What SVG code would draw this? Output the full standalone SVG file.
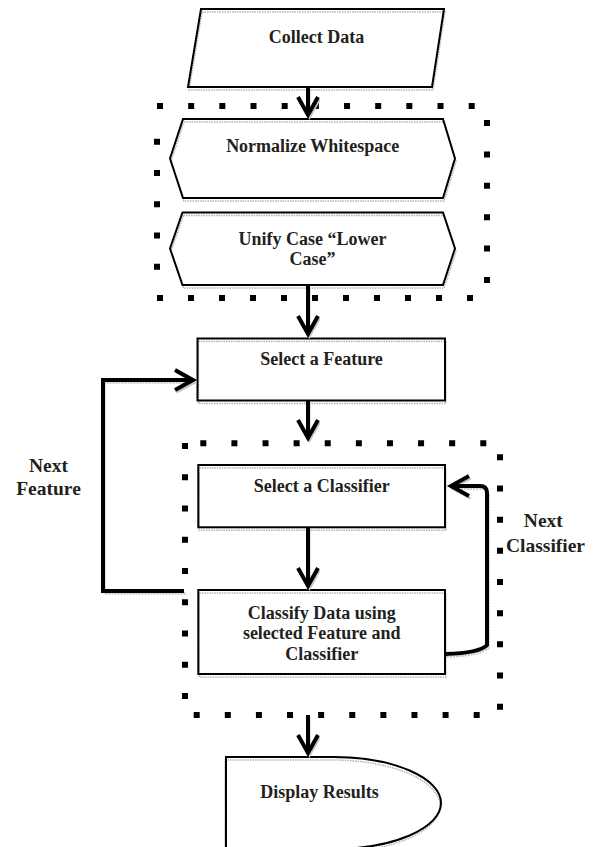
<svg xmlns="http://www.w3.org/2000/svg" xmlns:xlink="http://www.w3.org/1999/xlink" width="598" height="847" viewBox="0 0 598 847">
  <style>
    .t{font-family:"Liberation Serif","Times New Roman",serif;font-weight:bold;font-size:18px;fill:#231f20;text-anchor:middle}
    .lbl{font-size:19.5px}
    .fillw{fill:#fff;stroke:none}
    .shade{fill:none;stroke:#b4b4b4;stroke-width:1.5;stroke-dasharray:1.5 1}
    .edge{fill:none;stroke:#000;stroke-width:2;stroke-linejoin:miter}
    .dots{fill:none;stroke:#000;stroke-width:6}
    .wire{fill:none;stroke:#000;stroke-width:4;stroke-linejoin:miter;marker-end:url(#ah)}
    .wire-sh{fill:none;stroke:#c4c4c4;stroke-width:2.5;stroke-dasharray:2 1;marker-end:url(#ah-sh)}
  </style>
  <defs>
    <marker id="ah" markerUnits="userSpaceOnUse" orient="auto" overflow="visible" refX="0" refY="0" markerWidth="30" markerHeight="30">
      <path d="M-16,-10 L2,0 L-16,10" fill="none" stroke="#000" stroke-width="4" stroke-linejoin="miter" stroke-miterlimit="10"/>
    </marker>
    <marker id="ah-sh" markerUnits="userSpaceOnUse" orient="auto" overflow="visible" refX="0" refY="0" markerWidth="30" markerHeight="30">
      <path d="M-16,-10 L2,0 L-16,10" fill="none" stroke="#c4c4c4" stroke-width="2.5" stroke-linejoin="miter" stroke-miterlimit="10"/>
    </marker>

    <!-- node outlines -->
    <path id="s-collect" d="M201,9 H444 L432,87 H188 Z"/>
    <path id="s-normalize" d="M183,119 H443 L455,158.5 L443,198 H183 L170,158.5 Z"/>
    <path id="s-unify" d="M182.5,212.5 H443 L455,248.5 L443,285 H182.5 L170,248.5 Z"/>
    <rect id="s-feature" x="197.5" y="338.5" width="247.5" height="62"/>
    <rect id="s-classifier" x="198.3" y="465" width="246.7" height="62.3"/>
    <rect id="s-classify" x="198.3" y="590" width="246.7" height="84"/>
    <path id="s-display" d="M226,757 H333.5 A107.5,46 0 0 1 333.5,849 H226 Z"/>

    <!-- connector routes -->
    <path id="c1" d="M308,87 V113"/>
    <path id="c2" d="M308,286 V332"/>
    <path id="c3" d="M308,401 V436"/>
    <path id="c4" d="M308,527 V584"/>
    <path id="c5" d="M308,715 V751"/>
    <path id="c-next-feature" d="M184,591 H103 V380 H191"/>
    <path id="c-next-classifier" d="M445,654 Q480,653 487,645 V493 Q487,486 480,486 H453"/>
  </defs>

  <rect width="598" height="847" fill="#fff"/>

  <!-- dotted group frames -->
  <g id="frame-preprocess" class="dots">
    <path d="M157,106 H475" stroke-dasharray="6 25.17"/>
    <path d="M487,120 V283" stroke-dasharray="6 25.4"/>
    <path d="M157,298 H473" stroke-dasharray="6 25"/>
    <path d="M157,138.7 V270" stroke-dasharray="6 25.25"/>
  </g>
  <g id="frame-classify" class="dots">
    <path d="M200.3,443.3 H486.3" stroke-dasharray="6 25.11"/>
    <path d="M500,454.3 V710" stroke-dasharray="6 25.175"/>
    <path d="M193.7,715 H480" stroke-dasharray="6 25.11"/>
    <path d="M185,443 V699" stroke-dasharray="6 25.25"/>
  </g>

  <!-- nodes -->
  <g id="collect-data">
    <use href="#s-collect" class="fillw"/>
    <use href="#s-collect" class="shade" transform="translate(1,3)"/>
    <use href="#s-collect" class="edge"/>
    <text class="t" x="316.5" y="43">Collect Data</text>
  </g>
  <g id="normalize-whitespace">
    <use href="#s-normalize" class="fillw"/>
    <use href="#s-normalize" class="shade" transform="translate(1,3)"/>
    <use href="#s-normalize" class="edge"/>
    <text class="t" x="312.7" y="151.7">Normalize Whitespace</text>
  </g>
  <g id="unify-case">
    <use href="#s-unify" class="fillw"/>
    <use href="#s-unify" class="shade" transform="translate(1,3)"/>
    <use href="#s-unify" class="edge"/>
    <text class="t" x="312.5" y="245">Unify Case “Lower</text>
    <text class="t" x="312.5" y="265">Case”</text>
  </g>
  <g id="select-feature">
    <use href="#s-feature" class="fillw"/>
    <use href="#s-feature" class="shade" transform="translate(1,3)"/>
    <use href="#s-feature" class="edge"/>
    <text class="t" x="321.5" y="365">Select a Feature</text>
  </g>
  <g id="select-classifier">
    <use href="#s-classifier" class="fillw"/>
    <use href="#s-classifier" class="shade" transform="translate(1,3)"/>
    <use href="#s-classifier" class="edge"/>
    <text class="t" x="321.7" y="491.7">Select a Classifier</text>
  </g>
  <g id="classify-data">
    <use href="#s-classify" class="fillw"/>
    <use href="#s-classify" class="shade" transform="translate(1,3)"/>
    <use href="#s-classify" class="edge"/>
    <text class="t" x="321.7" y="618.5">Classify Data using</text>
    <text class="t" x="321.7" y="639">selected Feature and</text>
    <text class="t" x="321.7" y="659.5">Classifier</text>
  </g>
  <g id="display-results">
    <use href="#s-display" class="fillw"/>
    <use href="#s-display" class="shade" transform="translate(-1,3)"/>
    <use href="#s-display" class="edge"/>
    <text class="t" x="319.5" y="798">Display Results</text>
  </g>

  <!-- connectors -->
  <g id="connectors">
    <g class="wire-sh" transform="translate(1.5,2.5)">
      <use href="#c1"/><use href="#c2"/><use href="#c3"/><use href="#c4"/><use href="#c5"/>
      <use href="#c-next-feature"/><use href="#c-next-classifier"/>
    </g>
    <g class="wire">
      <use href="#c1"/><use href="#c2"/><use href="#c3"/><use href="#c4"/><use href="#c5"/>
      <use href="#c-next-feature"/><use href="#c-next-classifier"/>
    </g>
  </g>

  <!-- loop labels -->
  <g id="label-next-feature">
    <text class="t lbl" x="48.5" y="471.5">Next</text>
    <text class="t lbl" x="48.5" y="495">Feature</text>
  </g>
  <g id="label-next-classifier">
    <text class="t lbl" x="543.3" y="526.7">Next</text>
    <text class="t lbl" x="545.5" y="551.7">Classifier</text>
  </g>
</svg>
